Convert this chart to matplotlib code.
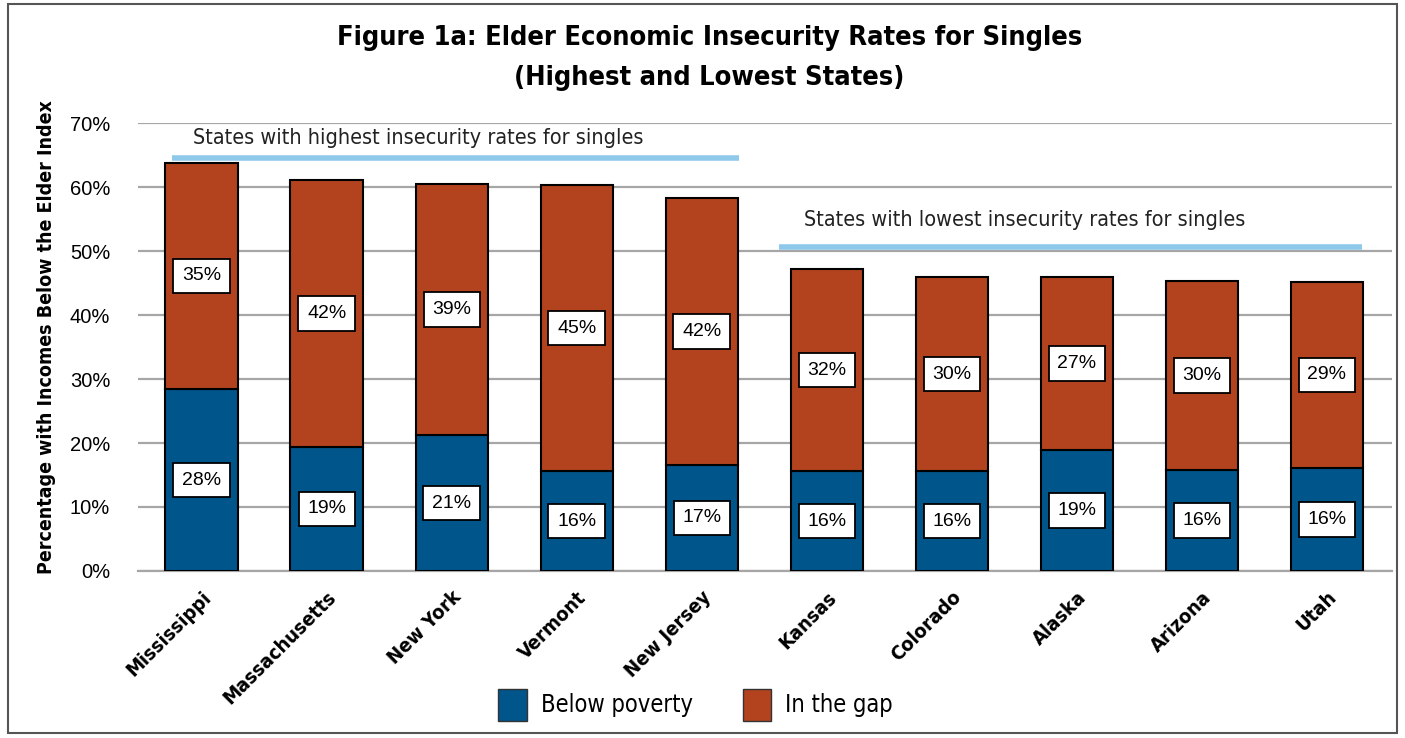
from matplotlib import pyplot as plt
from matplotlib.patches import Rectangle, Patch
import numpy as np

# Data
states = ['Mississippi', 'Massachusetts', 'New York', 'Vermont', 'New Jersey',
          'Kansas', 'Colorado', 'Alaska', 'Arizona', 'Utah']
below_poverty = [28.4, 19.4, 21.2, 15.6, 16.6, 15.6, 15.6, 18.9, 15.8, 16.1]
in_the_gap = [35.4, 41.7, 39.3, 44.7, 41.7, 31.6, 30.3, 27.0, 29.5, 29.1]
poverty_labels = ['28%', '19%', '21%', '16%', '17%', '16%', '16%', '19%', '16%', '16%']
gap_labels = ['35%', '42%', '39%', '45%', '42%', '32%', '30%', '27%', '30%', '29%']

blue = '#00558B'
red = '#B3431F'
line_blue = '#8EC8EA'
plt.rcParams['font.family'] = ['Liberation Sans', 'DejaVu Sans']
cond = dict(family='DejaVu Sans', fontstretch='condensed')

fig = plt.figure(figsize=(14.05, 7.38), dpi=100)
fig.patches.append(Rectangle((0.006, 0.007), 0.988, 0.988, transform=fig.transFigure,
                             fill=False, edgecolor='#555555', linewidth=1.5))
ax = fig.add_axes([0.0982, 0.2263, 0.8925, 0.607])

x = np.arange(len(states))
ax.bar(x, below_poverty, width=0.58, color=blue, edgecolor='black', linewidth=1.5, zorder=3)
ax.bar(x, in_the_gap, width=0.58, bottom=below_poverty, color=red, edgecolor='black',
       linewidth=1.5, zorder=3)

box = dict(boxstyle='square,pad=0.45', facecolor='white', edgecolor='black', linewidth=1.3)
for i in range(len(states)):
    ax.text(x[i], below_poverty[i] / 2, poverty_labels[i], ha='center', va='center',
            fontsize=14, bbox=box, zorder=5)
    ax.text(x[i], below_poverty[i] + in_the_gap[i] / 2, gap_labels[i], ha='center',
            va='center', fontsize=14, bbox=box, zorder=5)

# group annotations
ax.plot([-0.24, 4.30], [64.5, 64.5], color=line_blue, linewidth=4, zorder=4,
        solid_capstyle='butt')
ax.plot([4.62, 9.28], [50.6, 50.6], color=line_blue, linewidth=4, zorder=4,
        solid_capstyle='butt')
ax.text(-0.07, 67.6, 'States with highest insecurity rates for singles', fontsize=15.5,
        ha='left', va='center', color='#222222', **cond)
ax.text(4.82, 54.8, 'States with lowest insecurity rates for singles', fontsize=15.5,
        ha='left', va='center', color='#222222', **cond)

ax.set_xlim(-0.51, 9.52)
ax.set_ylim(0, 70)
ax.set_yticks(np.arange(0, 71, 10))
ax.set_yticklabels([f'{v}%' for v in range(0, 71, 10)], fontsize=14.5)
ax.set_xticks(x)
ax.set_xticklabels(states, rotation=45, ha='right', rotation_mode='anchor',
                   fontsize=14.5, fontweight='bold', **cond)
ax.tick_params(axis='y', length=0, pad=20)
ax.tick_params(axis='x', length=0, pad=12)
ax.yaxis.grid(True, color='#A6A6A6', linewidth=1.6, zorder=0)
ax.set_axisbelow(True)
for s in ['top', 'right', 'left']:
    ax.spines[s].set_visible(False)
ax.spines['bottom'].set_color('#A6A6A6')
ax.spines['bottom'].set_linewidth(1.6)

ax.set_ylabel('Percentage with Incomes Below the Elder Index', fontsize=14,
              fontweight='bold', **cond)
ax.yaxis.set_label_coords(-0.065, 0.522)

title_font = dict(ha='center', va='center', fontsize=19.5, fontweight='bold', **cond)
fig.text(0.505, 0.948, 'Figure 1a: Elder Economic Insecurity Rates for Singles', **title_font)
fig.text(0.505, 0.894, '(Highest and Lowest States)', **title_font)

handles = [Patch(facecolor=blue, edgecolor='#333333', label='Below poverty'),
           Patch(facecolor=red, edgecolor='#333333', label='In the gap')]
fig.legend(handles=handles, loc='center', bbox_to_anchor=(0.495, 0.045), ncol=2,
           frameon=False, handlelength=1.2, handleheight=1.7,
           columnspacing=2.1, handletextpad=0.6,
           prop=dict(size=17, family='DejaVu Sans', stretch='condensed'))

plt.savefig('out.png', dpi=100)
